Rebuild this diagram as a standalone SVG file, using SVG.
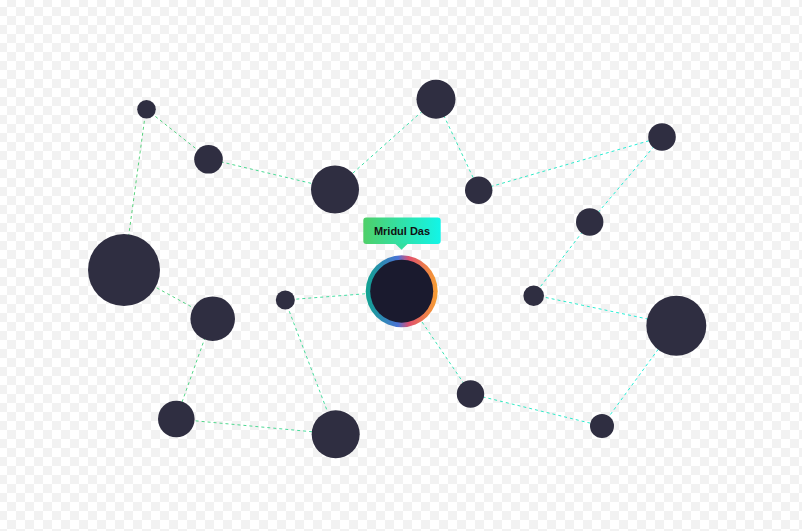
<svg xmlns="http://www.w3.org/2000/svg" width="802" height="531" viewBox="0 0 802 531">
<defs>
<pattern id="checker" x="-2" y="-2" width="18" height="18" patternUnits="userSpaceOnUse">
<rect width="18" height="18" fill="#ffffff"/>
<rect x="9" y="0" width="9" height="9" fill="#f2f2f2"/>
<rect x="0" y="9" width="9" height="9" fill="#f2f2f2"/>
</pattern>
<linearGradient id="linkGrad" gradientUnits="userSpaceOnUse" x1="120" y1="0" x2="680" y2="0">
<stop offset="0" stop-color="#5ad17a"/>
<stop offset="1" stop-color="#22f0e0"/>
</linearGradient>
<linearGradient id="ringGrad" x1="0" y1="0" x2="1" y2="0">
<stop offset="0" stop-color="#0fa38f"/>
<stop offset="0.45" stop-color="#4a72d6"/>
<stop offset="0.6" stop-color="#e0506e"/>
<stop offset="1" stop-color="#f7a030"/>
</linearGradient>
<linearGradient id="tipGrad" x1="0" y1="0" x2="1" y2="0">
<stop offset="0" stop-color="#4fcf68"/>
<stop offset="1" stop-color="#12f5e8"/>
</linearGradient>
<style>
.node { fill: #2f2e41; }
.link { stroke: url(#linkGrad); stroke-width: 1; stroke-dasharray: 3 3; fill: none; }
.label { font-family: "Liberation Sans", Arial, sans-serif; font-weight: bold; font-size: 11px; fill: #111111; }
</style>
</defs>
<rect width="802" height="531" fill="url(#checker)"/>
<g id="links">
<line class="link" x1="146" y1="109" x2="209" y2="159"/>
<line class="link" x1="146" y1="109" x2="124" y2="270"/>
<line class="link" x1="209" y1="159" x2="335" y2="189"/>
<line class="link" x1="335" y1="189" x2="436" y2="99"/>
<line class="link" x1="436" y1="99" x2="479" y2="190"/>
<line class="link" x1="479" y1="190" x2="662" y2="137"/>
<line class="link" x1="662" y1="137" x2="590" y2="222"/>
<line class="link" x1="590" y1="222" x2="534" y2="295"/>
<line class="link" x1="534" y1="295" x2="676" y2="325"/>
<line class="link" x1="676" y1="325" x2="602" y2="426"/>
<line class="link" x1="602" y1="426" x2="471" y2="394"/>
<line class="link" x1="471" y1="394" x2="401" y2="291"/>
<line class="link" x1="401" y1="291" x2="285" y2="300"/>
<line class="link" x1="285" y1="300" x2="336" y2="434"/>
<line class="link" x1="336" y1="434" x2="176" y2="419"/>
<line class="link" x1="176" y1="419" x2="212" y2="318"/>
<line class="link" x1="212" y1="318" x2="124" y2="270"/>
</g>
<g id="n1"><circle class="node" cx="146.5" cy="109.3" r="9.3"/></g>
<g id="n2"><circle class="node" cx="208.5" cy="159.3" r="14.3"/></g>
<g id="n3"><circle class="node" cx="335" cy="189.5" r="24"/></g>
<g id="n4"><circle class="node" cx="436" cy="99.3" r="19.5"/></g>
<g id="n5"><circle class="node" cx="478.7" cy="190.3" r="13.7"/></g>
<g id="n6"><circle class="node" cx="662" cy="137" r="13.8"/></g>
<g id="n7"><circle class="node" cx="589.7" cy="222" r="13.7"/></g>
<g id="n8"><circle class="node" cx="124" cy="270" r="36"/></g>
<g id="n9"><circle class="node" cx="212.7" cy="318.7" r="22.3"/></g>
<g id="n10"><circle class="node" cx="285.3" cy="300" r="9.5"/></g>
<g id="n12"><circle class="node" cx="533.7" cy="295.7" r="10.3"/></g>
<g id="n13"><circle class="node" cx="676.3" cy="325.7" r="30"/></g>
<g id="n14"><circle class="node" cx="176.3" cy="419" r="18.3"/></g>
<g id="n15"><circle class="node" cx="335.7" cy="434.3" r="24"/></g>
<g id="n16"><circle class="node" cx="470.5" cy="394" r="13.7"/></g>
<g id="n17"><circle class="node" cx="602" cy="426" r="12"/></g>
<g id="center">
<circle cx="401.7" cy="291.2" r="36" fill="url(#ringGrad)"/>
<circle cx="401.7" cy="291.2" r="31.5" fill="#1a1a2e"/>
</g>
<g id="tooltip">
<rect x="363.3" y="217.5" width="77.4" height="26.5" rx="3" fill="url(#tipGrad)"/>
<polygon points="395,243.5 408,243.5 401.5,249.8" fill="#36dea0"/>
<text class="label" x="402" y="235" text-anchor="middle">Mridul Das</text>
</g>
</svg>
